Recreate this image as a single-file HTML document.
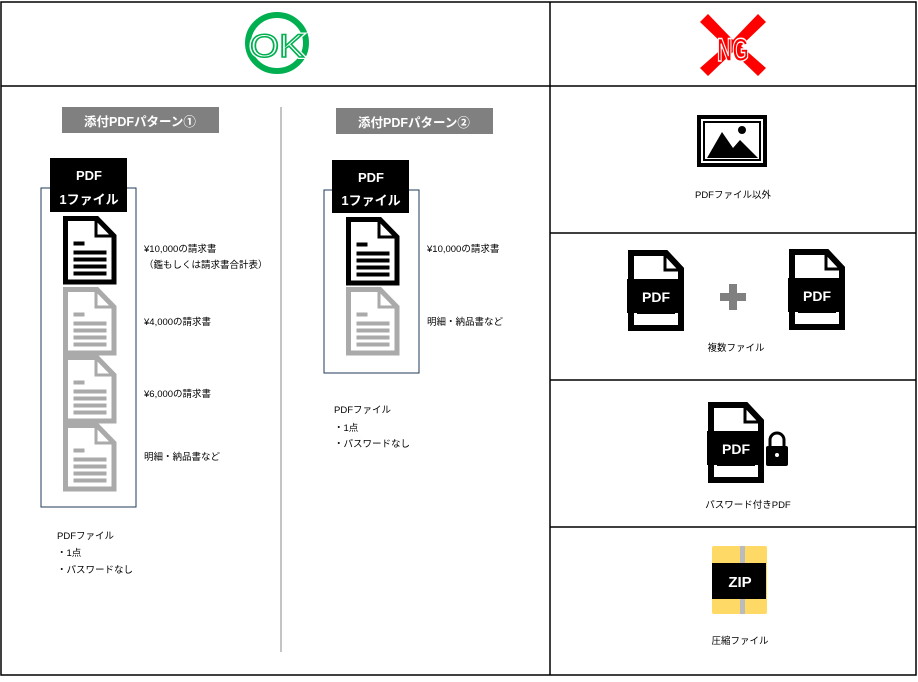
<!DOCTYPE html><html><head><meta charset="utf-8"><style>
body{margin:0;background:#fff}
svg text{font-family:"Liberation Sans","Noto Sans CJK JP",sans-serif}
</style></head><body>
<svg width="918" height="677" viewBox="0 0 918 677" xmlns="http://www.w3.org/2000/svg">
<defs>
<g id="doc"><path d="M2.5 2.5 H34 L51 20 V66 H2.5 Z" fill="none" stroke-width="5"/><path d="M33 3 V20 H50" fill="none" stroke-width="3"/>
<rect x="11" y="26" width="10" height="3"/><rect x="11" y="35" width="32" height="3"/><rect x="11" y="42" width="32" height="3"/><rect x="11" y="49" width="32" height="3"/><rect x="11" y="56" width="32" height="3"/></g>
<g id="pdf"><path d="M3 3 H38 L53 19 V78 H3 Z" fill="#fff" stroke="#000" stroke-width="6"/><path d="M37 4 V20 H52" fill="none" stroke="#000" stroke-width="3"/><rect x="-1" y="29" width="57" height="34" fill="#000"/><rect x="9" y="62" width="38" height="2" fill="#000"/><text x="28" y="52" font-size="14" font-weight="bold" fill="#fff" text-anchor="middle">PDF</text></g>
</defs>
<rect x="1" y="2" width="915" height="673" fill="none" stroke="#000" stroke-width="1.5"/>
<line x1="550" y1="2" x2="550" y2="675" stroke="#000" stroke-width="1.5"/>
<line x1="1" y1="86" x2="916" y2="86" stroke="#000" stroke-width="1.5"/>
<line x1="550" y1="233" x2="916" y2="233" stroke="#000" stroke-width="1.5"/>
<line x1="550" y1="380" x2="916" y2="380" stroke="#000" stroke-width="1.5"/>
<line x1="550" y1="527" x2="916" y2="527" stroke="#000" stroke-width="1.5"/>
<!-- OK -->
<ellipse cx="277" cy="43" rx="29" ry="28" fill="none" stroke="#00b050" stroke-width="6"/>
<text x="277" y="57" font-size="32" fill="#fff" stroke="#fff" stroke-width="4" text-anchor="middle" textLength="54" lengthAdjust="spacingAndGlyphs">OK</text>
<text x="277" y="57" font-size="32" fill="#fff" stroke="#00b050" stroke-width="1.5" text-anchor="middle" textLength="54" lengthAdjust="spacingAndGlyphs">OK</text>
<!-- NG -->
<path d="M700 22 L708 14 L733 40 L758 14 L766 22 L741 46 L766 68 L758 76 L733 52 L708 76 L700 68 L725 46 Z" fill="#f00"/>
<text x="733" y="61" font-size="32" font-weight="bold" fill="#f00" stroke="#fff" stroke-width="1.5" text-anchor="middle" textLength="32" lengthAdjust="spacingAndGlyphs">NG</text>
<!-- pattern 1 -->
<line x1="281" y1="107" x2="281" y2="652" stroke="#888" stroke-width="1"/>
<rect x="62" y="107" width="157" height="26" fill="#808080"/>
<text x="140" y="126" font-size="12.5" font-weight="bold" fill="#fff" text-anchor="middle">添付PDFパターン①</text>
<rect x="41" y="188" width="95" height="319" fill="none" stroke="#1f3a5a" stroke-width="1"/>
<rect x="50" y="158" width="77" height="54" fill="#000"/>
<text x="89" y="180" font-size="13" font-weight="bold" fill="#fff" text-anchor="middle">PDF</text>
<text x="89" y="204" font-size="13" font-weight="bold" fill="#fff" text-anchor="middle">1ファイル</text>
<use href="#doc" x="63" y="216" fill="#000" stroke="#000"/>
<use href="#doc" x="63" y="287" fill="#aaa" stroke="#aaa"/>
<use href="#doc" x="63" y="355" fill="#aaa" stroke="#aaa"/>
<use href="#doc" x="63" y="423" fill="#aaa" stroke="#aaa"/>
<g font-size="9.5" fill="#000">
<text x="144" y="252">¥10,000の請求書</text>
<text x="144" y="268">（鑑もしくは請求書合計表）</text>
<text x="144" y="325">¥4,000の請求書</text>
<text x="144" y="397">¥6,000の請求書</text>
<text x="144" y="460">明細・納品書など</text>
<text x="57" y="539">PDFファイル</text>
<text x="57" y="556">・1点</text>
<text x="57" y="573">・パスワードなし</text>
</g>
<!-- pattern 2 -->
<rect x="336" y="108" width="157" height="26" fill="#808080"/>
<text x="414" y="127" font-size="12.5" font-weight="bold" fill="#fff" text-anchor="middle">添付PDFパターン②</text>
<rect x="324" y="190" width="95" height="183" fill="none" stroke="#1f3a5a" stroke-width="1"/>
<rect x="332" y="160" width="77" height="53" fill="#000"/>
<text x="371" y="182" font-size="13" font-weight="bold" fill="#fff" text-anchor="middle">PDF</text>
<text x="371" y="205" font-size="13" font-weight="bold" fill="#fff" text-anchor="middle">1ファイル</text>
<use href="#doc" x="346" y="217" fill="#000" stroke="#000"/>
<use href="#doc" x="346" y="287" fill="#aaa" stroke="#aaa"/>
<g font-size="9.5" fill="#000">
<text x="427" y="252">¥10,000の請求書</text>
<text x="427" y="325">明細・納品書など</text>
<text x="334" y="413">PDFファイル</text>
<text x="334" y="431">・1点</text>
<text x="334" y="447">・パスワードなし</text>
</g>
<!-- right -->
<rect x="699" y="117" width="66" height="48" fill="none" stroke="#000" stroke-width="4"/>
<rect x="704" y="122" width="56" height="38" fill="none" stroke="#000" stroke-width="2"/>
<path d="M707 158 L722 132 L733 148 L740 140 L758 158 Z" fill="#000"/>
<circle cx="742" cy="130" r="4" fill="#000"/>
<g font-size="9.5" fill="#000" text-anchor="middle">
<text x="733" y="198">PDFファイル以外</text>
<text x="736" y="351">複数ファイル</text>
<text x="748" y="508">パスワード付きPDF</text>
<text x="740" y="644">圧縮ファイル</text>
</g>
<use href="#pdf" x="628" y="250"/>
<use href="#pdf" x="789" y="249"/>
<path d="M729 284 H737 V293 H746 V301 H737 V310 H729 V301 H720 V293 H729 Z" fill="#808080"/>
<use href="#pdf" x="708" y="402"/>
<rect x="766" y="446" width="22" height="20" rx="2" fill="#000"/>
<path d="M770 447 V440 A7 7 0 0 1 784 440 V447" fill="none" stroke="#000" stroke-width="3"/>
<circle cx="777" cy="455" r="2" fill="#fff"/>
<rect x="712" y="546" width="55" height="68" rx="2" fill="#ffd966"/>
<rect x="740" y="546" width="5" height="68" fill="#bbb"/>
<rect x="712" y="563" width="54" height="36" fill="#000"/>
<text x="740" y="587" font-size="15" font-weight="bold" fill="#fff" text-anchor="middle">ZIP</text>
</svg>
</body></html>
